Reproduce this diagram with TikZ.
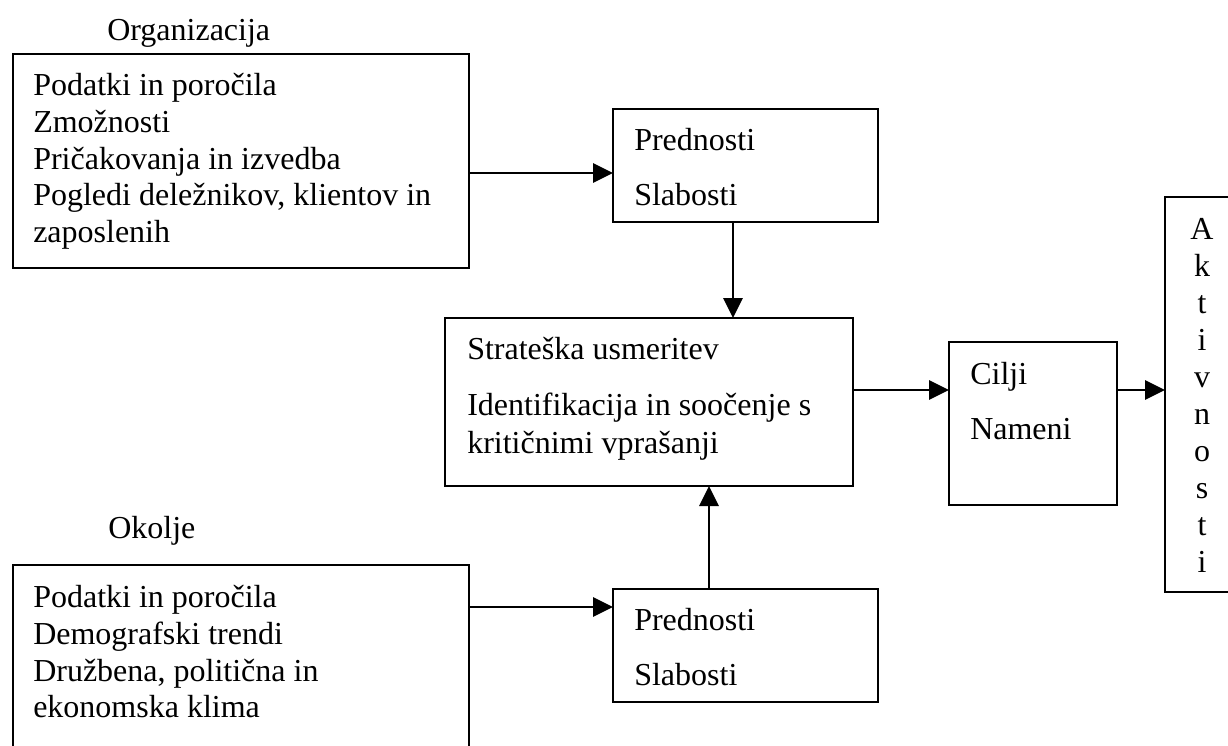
\documentclass[tikz,border=0pt]{standalone}
\usepackage{fontspec}
\setmainfont{Liberation Serif}
\usetikzlibrary{arrows.meta}

\tikzset{
  blok/.style={draw, line width=1.3pt, inner sep=0pt, outer sep=0pt},
  tekst/.style={inner sep=0pt, align=left, font=\fontsize{24pt}{27.6pt}\selectfont},
  puscica/.style={line width=1.3pt, -{Triangle[length=15pt,width=14.5pt]}}
}

\begin{document}
\begin{tikzpicture}[x=0.75pt,y=0.75pt,yscale=-1]
\useasboundingbox (0,0) rectangle (1228,746);

%Shape: boxes
\node [blok, minimum width=342pt, minimum height=160.5pt] (orgbox) at (241,161) {};
\node [blok, minimum width=198.75pt, minimum height=84.75pt] (str1) at (745.5,165.5) {};
\node [blok, minimum width=306pt, minimum height=126pt] (smer) at (649,402) {};
\node [blok, minimum width=126pt, minimum height=122.25pt] (cilji) at (1033,423.5) {};
\node [blok, minimum width=56.25pt, minimum height=296.25pt] (akt) at (1202.5,394.5) {};
\node [blok, minimum width=342pt, minimum height=146.25pt] (okbox) at (241,662.5) {};
\node [blok, minimum width=198.75pt, minimum height=84.75pt] (str2) at (745.5,645.5) {};

%Straight Lines: arrows
\coordinate (ya) at (0,173);
\coordinate (yb) at (0,390);
\coordinate (yc) at (0,607);
\coordinate (xa) at (733,0);
\coordinate (xb) at (709,0);
\draw [puscica] (orgbox.east |- ya) -- (str1.west |- ya);
\draw [puscica] (str1.south -| xa) -- (smer.north -| xa);
\draw [puscica] (smer.east |- yb) -- (cilji.west |- yb);
\draw [puscica] (cilji.east |- yb) -- (akt.west |- yb);
\draw [puscica] (okbox.east |- yc) -- (str2.west |- yc);
\draw [puscica] (str2.north -| xb) -- (smer.south -| xb);

% Text Node
\node [tekst, anchor=base west] (orgnaslov) at (107,40) {Organizacija};
% Text Node
\node [tekst, anchor=north west] (orgtekst) at (33,73) {Podatki in poročila\\Zmožnosti\\Pričakovanja in izvedba\\Pogledi deležnikov, klientov in\\zaposlenih};
% Text Node
\node [tekst, anchor=north west] (str1tekst) at (634,128) {Prednosti\\[14pt]Slabosti};
% Text Node
\node [tekst, anchor=north west] (smertekst) at (467,337) {Strateška usmeritev\\[14pt]Identifikacija in soočenje s\\[1pt]kritičnimi vprašanji};
% Text Node
\node [tekst, anchor=north west] (ciljitekst) at (970,362) {Cilji\\[14pt]Nameni};
% Text Node
\node [tekst, align=center, anchor=north, font=\fontsize{24pt}{27.75pt}\selectfont] (akttekst) at (1202,218) {A\\k\\t\\i\\v\\n\\o\\s\\t\\i};
% Text Node
\node [tekst, anchor=base west] (oknaslov) at (108,538) {Okolje};
% Text Node
\node [tekst, anchor=north west] (oktekst) at (33,585) {Podatki in poročila\\Demografski trendi\\Družbena, politična in\\ekonomska klima};
% Text Node
\node [tekst, anchor=north west] (str2tekst) at (634,608) {Prednosti\\[14pt]Slabosti};

\end{tikzpicture}
\end{document}
